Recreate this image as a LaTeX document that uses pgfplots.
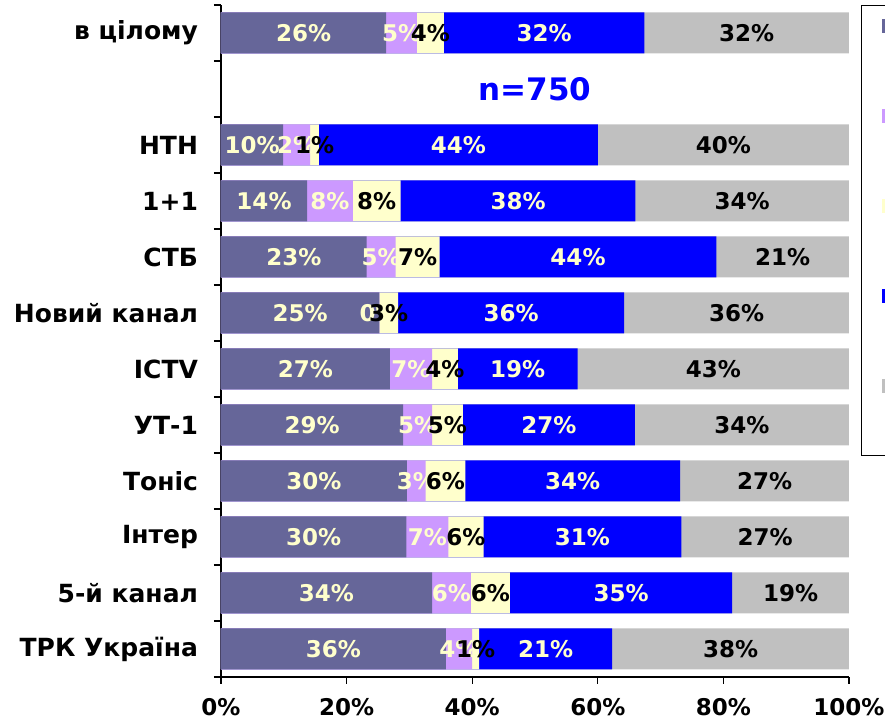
\documentclass[border=0pt]{standalone}
\usepackage{pgfplots}
\usepackage{pgfplotstable}
\pgfplotsset{compat=1.18}
\usepackage{fontspec}
\setmainfont{DejaVu Sans}
\definecolor{cpur}{HTML}{666699}
\definecolor{clav}{HTML}{CC99FF}
\definecolor{cyel}{HTML}{FFFFCC}
\definecolor{cblu}{HTML}{0000FF}
\definecolor{cgry}{HTML}{C0C0C0}
\newcommand\lf{\fontsize{11.5}{13}\selectfont\bfseries}
\newcommand\yf{\fontsize{12.5}{14}\selectfont\bfseries}
\pgfplotstableread{
y a b c d e la lb lc ld le
11 26.3 4.9 4.3 31.9 32.6 26 5 4 32 32
9 9.9 4.3 1.4 44.4 40.0 10 2 1 44 40
8 13.7 7.3 7.6 37.4 34.0 14 8 8 38 34
7 23.2 4.6 7.0 44.1 21.1 23 5 7 44 21
6 25.2 0.0 3.0 36.0 35.8 25 0 3 36 36
5 26.9 6.7 4.1 19.1 43.2 27 7 4 19 43
4 29.0 4.6 4.9 27.4 34.1 29 5 5 27 34
3 29.6 3.0 6.3 34.2 26.9 30 3 6 34 27
2 29.5 6.7 5.6 31.5 26.7 30 7 6 31 27
1 33.6 6.2 6.2 35.4 18.6 34 6 6 35 19
0 35.8 4.2 1.1 21.2 37.7 36 4 1 21 38
}\data
\pgfplotstablecreatecol[create col/expr={\thisrow{a}+\thisrow{b}}]{cb}\data
\pgfplotstablecreatecol[create col/expr={\thisrow{cb}+\thisrow{c}}]{cc}\data
\pgfplotstablecreatecol[create col/expr={\thisrow{cc}+\thisrow{d}}]{cd}\data
\pgfplotstablecreatecol[create col/expr={\thisrow{cd}+\thisrow{e}}]{ce}\data
\pgfplotstablecreatecol[create col/expr={\thisrow{a}/2}]{ma}\data
\pgfplotstablecreatecol[create col/expr={(\thisrow{a}+\thisrow{cb})/2}]{mb}\data
\pgfplotstablecreatecol[create col/expr={(\thisrow{cb}+\thisrow{cc})/2}]{mc}\data
\pgfplotstablecreatecol[create col/expr={(\thisrow{cc}+\thisrow{cd})/2}]{md}\data
\pgfplotstablecreatecol[create col/expr={(\thisrow{cd}+\thisrow{ce})/2}]{me}\data
\pgfplotsset{
  barst/.style={xbar, bar shift=0pt, bar width=20.5pt, draw=none, fill=#1,
    legend image code/.code={\path[draw=none, fill=none] (0,-22.5pt) rectangle (20pt,22.5pt); \fill[#1, draw=none] (10pt,9pt) rectangle (18pt,16pt);}},
  labst/.style 2 args={draw=none, mark=none, forget plot, point meta=explicit,
    nodes near coords={\pgfmathprintnumber[fixed,precision=0]{\pgfplotspointmeta}\%},
    every node near coord/.append style={anchor=center, text=#1, font=\lf, inner sep=0pt}},
}
\begin{document}
\begin{tikzpicture}
\path[use as bounding box] (-110.5pt,-22.5pt) rectangle (332pt,338.5pt);
\begin{axis}[
  scale only axis, width=314pt, height=336pt,
  xmin=0, xmax=100, ymin=-0.5, ymax=11.5,
  axis x line*=bottom, axis y line*=left,
  axis line style={black, line width=0.6pt},
  tick align=outside, major tick length=3.5pt, minor tick length=3.5pt,
  tick style={black, line width=0.6pt},
  xtick={0,20,...,100},
  xticklabel={\pgfmathprintnumber{\tick}\%},
  xticklabel style={font=\lf, anchor=base, yshift=-16pt},
  ytick={0,...,11},
  yticklabels={ТРК Україна,5-й канал,Інтер,Тоніс,УТ-1,ICTV,Новий канал,СТБ,1+1,НТН,{},в цілому},
  yticklabel style={font=\yf, anchor=east, xshift=-4.5pt},
  every major y tick/.append style={draw=none},
  minor ytick={-0.5,0.5,...,11.5},
  /pgf/number format/assume math mode=true,
  reverse legend,
  legend style={at={(axis description cs:1.01911,1)}, anchor=north west,
    draw=black, line width=0.6pt, inner sep=0pt, row sep=0pt, column sep=0pt,
    nodes={inner sep=0pt, outer sep=0pt}},
]
\addplot[barst=cgry] table[x=ce, y=y]{\data};
\addplot[barst=cblu] table[x=cd, y=y]{\data};
\addplot[barst=cyel] table[x=cc, y=y]{\data};
\addplot[barst=clav] table[x=cb, y=y]{\data};
\addplot[barst=cpur] table[x=a, y=y]{\data};
\legend{\phantom{x},\phantom{x},\phantom{x},\phantom{x},\phantom{x}}
\addplot[labst={cyel}{}] table[x=ma, y=y, meta=la]{\data};
\addplot[labst={cyel}{}] table[x=mb, y=y, meta=lb]{\data};
\addplot[labst={black}{}] table[x=mc, y=y, meta=lc]{\data};
\addplot[labst={cyel}{}] table[x=md, y=y, meta=ld]{\data};
\addplot[labst={black}{}] table[x=me, y=y, meta=le]{\data};
\node[text=cblu, font=\fontsize{15.5}{18}\selectfont\bfseries] at (axis cs:50,10) {n=750};
\end{axis}
\end{tikzpicture}
\end{document}
